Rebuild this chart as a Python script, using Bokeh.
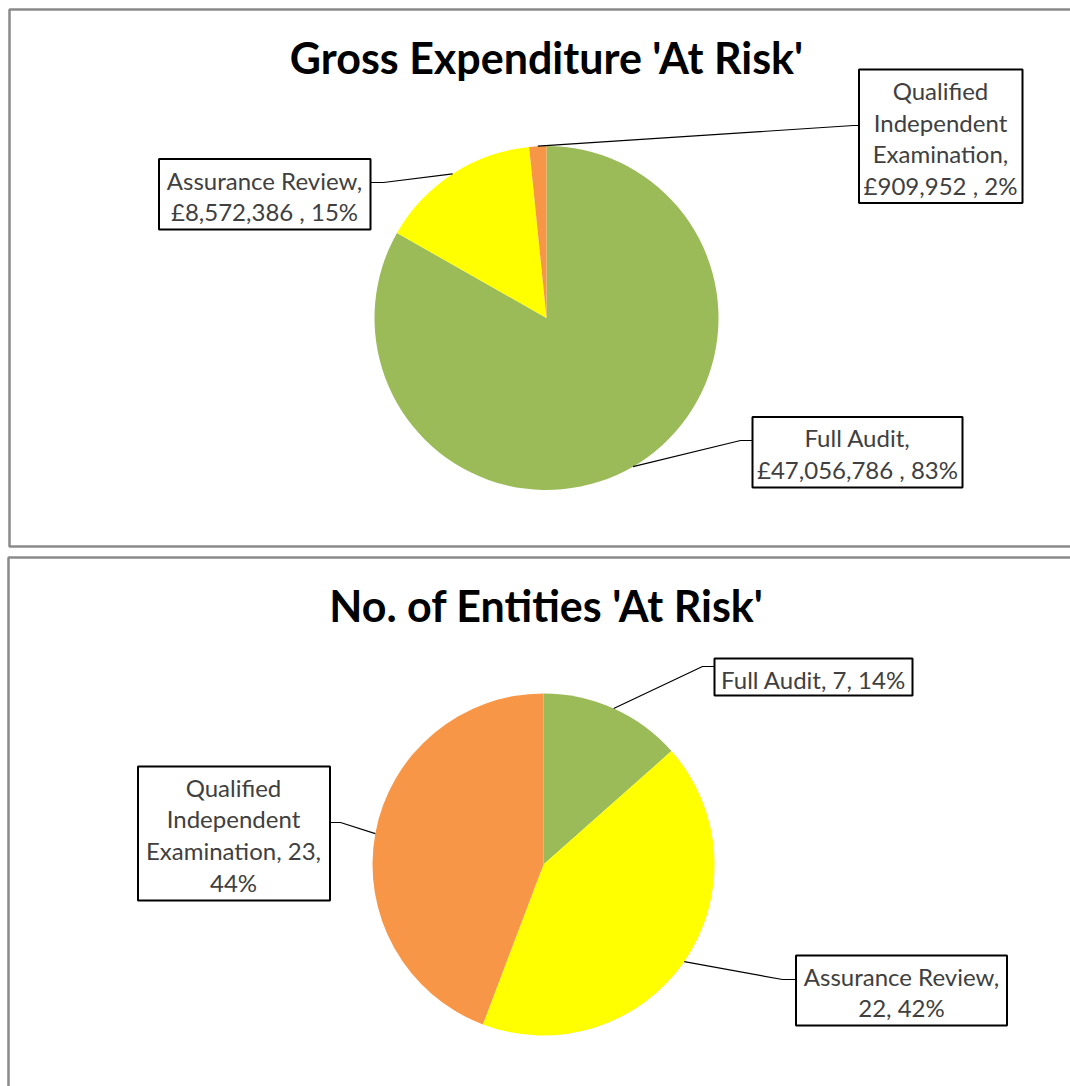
import math
from bokeh.plotting import figure
from bokeh.models import Range1d
from bokeh.core.properties import value
from bokeh.embed import file_html
from bokeh.resources import INLINE

# ---- data ----
categories = ["Full Audit", "Assurance Review", "Qualified Independent Examination"]
expenditure = [47056786, 8572386, 909952]
expenditure_pct = [83, 15, 2]
entities = [7, 22, 23]
entities_pct = [14, 42, 44]
slice_colors = ["#9BBB59", "#FFFF00", "#F79646"]
title_top = "Gross Expenditure 'At Risk'"
title_bottom = "No. of Entities 'At Risk'"

W, H = 1070, 1086
p = figure(width=W, height=H, output_backend="svg", toolbar_location=None,
           x_range=Range1d(0, W), y_range=Range1d(-H, 0),
           x_axis_type=None, y_axis_type=None, min_border=0)
p.grid.visible = False
p.outline_line_color = None
p.background_fill_color = "white"

FONT = "Lato"
LABEL_COLOR = "#404040"
LSIZE = 24

def Y(py):
    return -py

# chart frames
frame_col = "#8a8a8a"
p.line([1090, 9, 9, 1090], [Y(9), Y(9), Y(546), Y(546)], line_color=frame_col, line_width=2.5)
p.line([1090, 8, 8], [Y(557), Y(557), Y(1100)], line_color=frame_col, line_width=2.5)

def pie(values, cx, cy, r):
    total = float(sum(values))
    fr = [v / total for v in values]
    starts, ends, mids = [], [], []
    c = 0.0
    for f in fr:
        starts.append(math.pi / 2 - c * 2 * math.pi)
        mids.append(c + f / 2)
        c += f
        ends.append(math.pi / 2 - c * 2 * math.pi)
    p.wedge(x=[cx] * len(values), y=[Y(cy)] * len(values), radius=r,
            start_angle=starts, end_angle=ends, direction="clock",
            fill_color=slice_colors, line_color=None)
    pts = []
    for m in mids:
        a = m * 2 * math.pi
        pts.append((cx + r * math.sin(a), cy - r * math.cos(a)))
    return pts

def box(l, r, t, b):
    p.quad(left=[l], right=[r], top=[Y(t)], bottom=[Y(b)],
           fill_color="white", line_color="black", line_width=2)

def lines_text(xc, ys, texts, size=LSIZE):
    p.text(x=[xc] * len(texts), y=[Y(v) for v in ys], text=texts,
           text_font=value(FONT), text_font_size=f"{size}px",
           text_color=LABEL_COLOR, text_align="center", text_baseline="middle")

def leader(pts):
    p.line([q[0] for q in pts], [Y(q[1]) for q in pts], line_color="black", line_width=1.2)

# ---- top chart ----
p.text(x=[546], y=[Y(57)], text=[title_top], text_font=value(FONT),
       text_font_style="bold", text_font_size="43px", text_color="black",
       text_align="center", text_baseline="middle")

tp = pie(expenditure, 546, 317.5, 172)
fmt = lambda v: "£{:,}".format(v)

# Full Audit
leader([tp[0], (740, 440), (752, 440)])
box(752, 962, 416.5, 487)
lines_text(857, [437, 469], [f"{categories[0]},", f"{fmt(expenditure[0])} , {expenditure_pct[0]}%"])
# Assurance Review
leader([tp[1], (383, 182), (370, 182)])
box(158.5, 370, 158.5, 229)
lines_text(264, [180, 211], [f"{categories[1]},", f"{fmt(expenditure[1])} , {expenditure_pct[1]}%"])
# QIE
leader([tp[2], (853, 125), (858, 125)])
box(858.5, 1022, 69, 202.5)
lines_text(940, [90, 121.5, 153, 184.5],
           ["Qualified", "Independent", "Examination,", f"{fmt(expenditure[2])} , {expenditure_pct[2]}%"])

# ---- bottom chart ----
p.text(x=[546], y=[Y(605)], text=[title_bottom], text_font=value(FONT),
       text_font_style="bold", text_font_size="43px", text_color="black",
       text_align="center", text_baseline="middle")

bp = pie(entities, 543, 864, 171)

# Full Audit
leader([bp[0], (702, 666), (714, 666)])
box(714, 912, 658, 695)
lines_text(813, [679], [f"{categories[0]}, {entities[0]}, {entities_pct[0]}%"])
# Assurance Review
leader([bp[1], (782, 979), (795, 979)])
box(795.5, 1006.5, 955, 1025)
lines_text(901, [976, 1007], [f"{categories[1]},", f"{entities[1]}, {entities_pct[1]}%"])
# QIE
leader([bp[2], (340, 822), (329, 822)])
box(137.5, 329.5, 766, 900)
lines_text(233, [786.5, 818, 850, 881.5],
           ["Qualified", "Independent", f"Examination, {entities[2]},", f"{entities_pct[2]}%"])

open("out.html", "w").write(file_html(p, INLINE))
